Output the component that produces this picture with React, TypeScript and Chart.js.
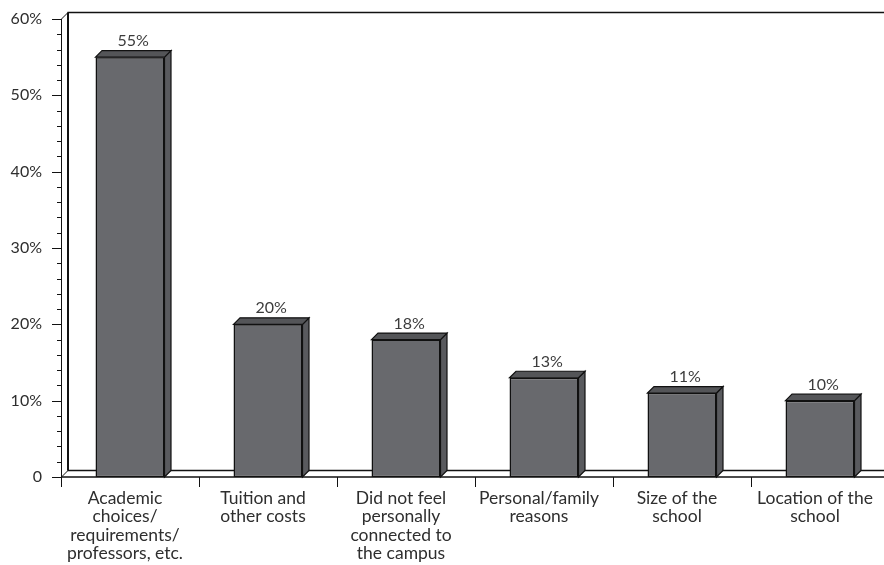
import { useEffect, useRef } from 'react';
import { Chart, registerables } from 'chart.js';

Chart.register(...registerables);

const categories: string[][] = [
  ['Academic', 'choices/', 'requirements/', 'professors, etc.'],
  ['Tuition and', 'other costs'],
  ['Did not feel', 'personally', 'connected to', 'the campus'],
  ['Personal/family', 'reasons'],
  ['Size of the', 'school'],
  ['Location of the', 'school'],
];
const values: number[] = [55, 20, 18, 13, 11, 10];
const yMajorTicks: number[] = [0, 10, 20, 30, 40, 50, 60];
const yTickLabels: string[] = ['0', '10%', '20%', '30%', '40%', '50%', '60%'];

const W = 900;
const H = 565;
const D = 6.5;
const FONT = 'Lato, "Open Sans", sans-serif';

const threeD = {
  id: 'threeD',
  beforeDatasetsDraw(chart: any) {
    const { ctx, chartArea: a, scales } = chart;
    const x = scales.x;
    const y = scales.y;
    const L = a.left;
    const B = y.getPixelForValue(0);
    const T = y.getPixelForValue(60);
    ctx.save();
    ctx.strokeStyle = '#111';
    ctx.lineCap = 'butt';
    // back wall
    ctx.lineWidth = 2;
    ctx.beginPath();
    ctx.moveTo(L + D + 0.5, T - D);
    ctx.lineTo(L + D + 0.5, B - D);
    ctx.stroke();
    ctx.lineWidth = 1.5;
    ctx.beginPath();
    ctx.moveTo(L + D, T - D);
    ctx.lineTo(chart.width, T - D);
    ctx.stroke();
    ctx.lineWidth = 1;
    ctx.beginPath();
    ctx.moveTo(L + 0.5, T);
    ctx.lineTo(L + D + 0.5, T - D);
    ctx.stroke();
    // floor
    ctx.lineWidth = 1.5;
    ctx.beginPath();
    ctx.moveTo(L + D, B - D);
    ctx.lineTo(chart.width, B - D);
    ctx.moveTo(L, B);
    ctx.lineTo(chart.width, B);
    ctx.stroke();
    ctx.lineWidth = 1;
    ctx.beginPath();
    ctx.moveTo(L + 0.5, B);
    ctx.lineTo(L + D + 0.5, B - D);
    ctx.stroke();
    // front y axis line
    ctx.beginPath();
    ctx.moveTo(L + 0.5, T);
    ctx.lineTo(L + 0.5, B + 10);
    ctx.stroke();
    // y ticks (major and minor)
    for (let v = 0; v <= 60; v += 2) {
      const py = Math.round(y.getPixelForValue(v)) + 0.5;
      const len = yMajorTicks.includes(v) ? 9 : 4;
      ctx.beginPath();
      ctx.moveTo(L - len, py);
      ctx.lineTo(L, py);
      ctx.stroke();
    }
    // category ticks
    const n = categories.length;
    const sp = (x.getPixelForValue(n - 1) - x.getPixelForValue(0)) / (n - 1);
    for (let i = 1; i <= n; i++) {
      const px = Math.round(x.getPixelForValue(i - 1) + sp / 2) + 0.5;
      ctx.beginPath();
      ctx.moveTo(px, B);
      ctx.lineTo(px, B + 10);
      ctx.stroke();
    }
    ctx.restore();
  },
  afterDatasetsDraw(chart: any) {
    const { ctx } = chart;
    const meta = chart.getDatasetMeta(0);
    ctx.save();
    ctx.strokeStyle = '#111';
    ctx.lineWidth = 1.2;
    ctx.lineJoin = 'miter';
    meta.data.forEach((el: any, i: number) => {
      const { x, y, width, base } = el.getProps(['x', 'y', 'width', 'base'], true);
      const l = x - width / 2;
      const r = x + width / 2;
      // side face
      ctx.fillStyle = '#595a5e';
      ctx.beginPath();
      ctx.moveTo(r, y);
      ctx.lineTo(r + D, y - D);
      ctx.lineTo(r + D, base - D);
      ctx.lineTo(r, base);
      ctx.closePath();
      ctx.fill();
      ctx.stroke();
      // top face
      ctx.fillStyle = '#545558';
      ctx.beginPath();
      ctx.moveTo(l, y);
      ctx.lineTo(l + D, y - D);
      ctx.lineTo(r + D, y - D);
      ctx.lineTo(r, y);
      ctx.closePath();
      ctx.fill();
      ctx.stroke();
      // value label
      ctx.fillStyle = '#3c3c3c';
      ctx.font = `16px ${FONT}`;
      ctx.textAlign = 'center';
      ctx.textBaseline = 'alphabetic';
      ctx.fillText(`${values[i]}%`, x + D / 2, y - D - 4.5);
    });
    ctx.restore();
  },
};

export default function App() {
  const ref = useRef<HTMLCanvasElement | null>(null);
  useEffect(() => {
    if (!ref.current) return;
    const chart = new Chart(ref.current, {
      type: 'bar',
      data: {
        labels: categories,
        datasets: [
          {
            data: values,
            backgroundColor: '#68696d',
            borderColor: '#111',
            borderWidth: 1.5,
            borderSkipped: false,
            barPercentage: 1,
            categoryPercentage: 0.5,
          },
        ],
      },
      options: {
        responsive: false,
        animation: false,
        devicePixelRatio: 1,
        layout: { padding: { top: 19, right: W - 889, left: 0, bottom: 0 } },
        plugins: { legend: { display: false }, tooltip: { enabled: false } },
        scales: {
          x: {
            type: 'category',
            offset: true,
            grid: { display: false, drawTicks: false },
            border: { display: false },
            ticks: {
              font: { family: FONT, size: 17.5, lineHeight: 1.05 },
              color: '#2e2e2e',
              padding: 12,
              labelOffset: -5,
              maxRotation: 0,
              autoSkip: false,
            },
            afterFit(s: any) {
              s.height = 88;
              s.paddingLeft = 0;
              s.paddingRight = 0;
            },
          },
          y: {
            min: 0,
            max: 60,
            grid: { display: false, drawTicks: false },
            border: { display: false },
            ticks: {
              stepSize: 2,
              autoSkip: false,
              color: '#2e2e2e',
              padding: 19,
              font: { family: FONT, size: 16 },
              callback: (v: any) => {
                const idx = yMajorTicks.indexOf(Number(v));
                return idx >= 0 ? yTickLabels[idx] : '';
              },
            },
            afterFit(s: any) {
              s.width = 61;
              s.paddingTop = 0;
              s.paddingBottom = 0;
            },
          },
        },
      },
      plugins: [threeD],
    });
    return () => chart.destroy();
  }, []);
  return (
    <div style={{ position: 'absolute', left: 0, top: 0, width: 884, height: 565, overflow: 'hidden', background: '#fff' }}>
      <canvas ref={ref} width={W} height={H} style={{ width: W, height: H, display: 'block' }} />
    </div>
  );
}
